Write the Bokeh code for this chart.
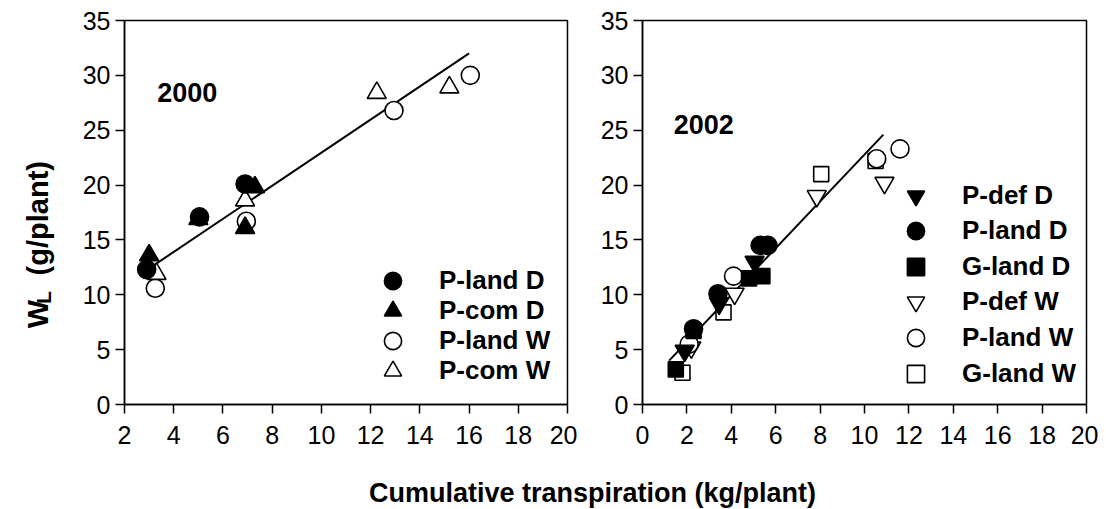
import numpy as np
from bokeh.plotting import figure
from bokeh.models import Range1d, FixedTicker, Legend, LegendItem, Label
from bokeh.layouts import row, column
from bokeh.embed import file_html
from bokeh.resources import INLINE

# ---------------- data: 2000 ----------------
pland_d_2000_x = [2.9, 5.05, 6.9]
pland_d_2000_y = [12.3, 17.1, 20.1]
pcom_d_2000_x = [3.0, 5.0, 6.9, 7.3]
pcom_d_2000_y = [13.6, 16.9, 16.1, 19.8]
pland_w_2000_x = [3.25, 6.95, 12.95, 16.05]
pland_w_2000_y = [10.6, 16.7, 26.8, 30.0]
pcom_w_2000_x = [3.3, 6.9, 12.25, 15.2]
pcom_w_2000_y = [11.9, 18.6, 28.4, 28.9]
fit_2000_x = [3.2, 16.0]
fit_2000_y = [12.7, 32.0]

# ---------------- data: 2002 ----------------
pdef_d_2002_x = [1.9, 3.45, 5.05]
pdef_d_2002_y = [4.9, 9.2, 13.0]
pland_d_2002_x = [2.3, 3.4, 5.3, 5.65]
pland_d_2002_y = [6.9, 10.1, 14.5, 14.5]
gland_d_2002_x = [1.5, 2.3, 4.8, 5.4]
gland_d_2002_y = [3.2, 6.7, 11.5, 11.7]
pdef_w_2002_x = [2.2, 4.15, 7.85, 10.9]
pdef_w_2002_y = [5.2, 10.1, 19.0, 20.2]
pland_w_2002_x = [2.1, 4.1, 10.55, 11.6]
pland_w_2002_y = [5.5, 11.7, 22.4, 23.3]
gland_w_2002_x = [1.8, 3.65, 8.05, 10.5]
gland_w_2002_y = [2.9, 8.4, 21.0, 22.2]
fit_2002_x = [1.2, 10.85]
fit_2002_y = [4.0, 24.6]

x_ticks_2000 = [2, 4, 6, 8, 10, 12, 14, 16, 18, 20]
x_ticks_2002 = [0, 2, 4, 6, 8, 10, 12, 14, 16, 18, 20]
y_ticks = [0, 5, 10, 15, 20, 25, 30, 35]

FONT = "Liberation Sans"
TICK_FS = "25px"
LEG_FS = "26px"
H = 458
FRAME_TOP = 20
FRAME_H = 384
GLYPH = 43


def make_fig(width, mbl, mbr, xr, xticks):
    p = figure(width=width, height=H, x_range=Range1d(*xr), y_range=Range1d(0, 35),
               output_backend="svg", toolbar_location=None,
               min_border_left=mbl, min_border_right=mbr, min_border_top=FRAME_TOP,
               min_border_bottom=H - FRAME_TOP - FRAME_H)
    p.xgrid.visible = False
    p.ygrid.visible = False
    p.outline_line_color = "black"
    p.outline_line_width = 1.5
    p.background_fill_color = "white"
    p.border_fill_color = "white"
    p.xaxis.ticker = FixedTicker(ticks=xticks)
    p.yaxis.ticker = FixedTicker(ticks=y_ticks)
    for ax in (p.xaxis[0], p.yaxis[0]):
        ax.axis_line_color = "black"
        ax.axis_line_width = 1.5
        ax.major_tick_line_color = "black"
        ax.major_tick_line_width = 1.5
        ax.major_tick_in = 0
        ax.major_tick_out = 9
        ax.minor_tick_line_color = None
        ax.major_label_text_font = FONT
        ax.major_label_text_font_size = TICK_FS
        ax.major_label_text_color = "black"
    p.xaxis.major_label_standoff = 12
    p.yaxis.major_label_standoff = 5
    return p


def draw(p, x, y, marker, filled, size):
    return p.scatter(x, y, marker=marker, size=size,
                     fill_color="black" if filled else "white",
                     line_color="black", line_width=1.6)


def add_legend(p, entries, first_row, step, x_loc):
    """One single-item legend per row so that rows can be closer than the glyph box."""
    for i, (label, rend) in enumerate(entries):
        centre = first_row + i * step               # pixel row centre from canvas top
        y_loc = FRAME_TOP + FRAME_H - centre - GLYPH / 2
        lg = Legend(items=[LegendItem(label=label, renderers=[rend])], location=(x_loc, y_loc))
        lg.label_text_font = FONT
        lg.label_text_font_size = LEG_FS
        lg.label_text_font_style = "bold"
        lg.label_text_color = "black"
        lg.glyph_width = GLYPH
        lg.glyph_height = GLYPH
        lg.label_height = 30
        lg.label_standoff = 25
        lg.padding = 0
        lg.margin = 0
        lg.border_line_alpha = 0
        lg.background_fill_alpha = 0
        p.add_layout(lg)


# ---------------- y-axis title panel ----------------
p0 = figure(width=60, height=H, x_range=Range1d(0, 60), y_range=Range1d(0, H),
            output_backend="svg", toolbar_location=None, x_axis_type=None, y_axis_type=None,
            min_border=0)
p0.outline_line_color = None
p0.xgrid.visible = False
p0.ygrid.visible = False
p0.add_layout(Label(x=37, y=H - 367, text="W", angle=np.pi / 2, text_font=FONT,
                    text_font_size="30px", text_font_style="bold", text_color="black",
                    text_align="left", text_baseline="alphabetic"))
p0.add_layout(Label(x=43, y=H - 338, text="L", angle=np.pi / 2, text_font=FONT,
                    text_font_size="21px", text_font_style="bold", text_color="black",
                    text_align="left", text_baseline="alphabetic"))
p0.add_layout(Label(x=37, y=H - 304, text="(g/plant)", angle=np.pi / 2, text_font=FONT,
                    text_font_size="29px", text_font_style="bold", text_color="black",
                    text_align="left", text_baseline="alphabetic"))

# ---------------- left panel ----------------
p1 = make_fig(517, 64, 10, (2, 20), x_ticks_2000)
p1.line(fit_2000_x, fit_2000_y, line_color="black", line_width=2)
r_plw = draw(p1, pland_w_2000_x, pland_w_2000_y, "circle", False, 18)
r_pcw = draw(p1, pcom_w_2000_x, pcom_w_2000_y, "triangle", False, 19)
r_pcd = draw(p1, pcom_d_2000_x, pcom_d_2000_y, "triangle", True, 19)
r_pld = draw(p1, pland_d_2000_x, pland_d_2000_y, "circle", True, 18)

add_legend(p1, [("P-land D", r_pld), ("P-com D", r_pcd),
                ("P-land W", r_plw), ("P-com W", r_pcw)],
           first_row=280, step=30.3, x_loc=247)

p1.add_layout(Label(x=3.33, y=28.4, text="2000", text_font=FONT, text_font_size="27px",
                    text_font_style="bold", text_color="black",
                    text_align="left", text_baseline="alphabetic"))

# ---------------- right panel ----------------
p2 = make_fig(521, 65, 12, (0, 20), x_ticks_2002)
p2.line(fit_2002_x, fit_2002_y, line_color="black", line_width=2)
r_gw = draw(p2, gland_w_2002_x, gland_w_2002_y, "square", False, 15)
r_pdw = draw(p2, pdef_w_2002_x, pdef_w_2002_y, "inverted_triangle", False, 19)
r_plw2 = draw(p2, pland_w_2002_x, pland_w_2002_y, "circle", False, 18)
r_gd = draw(p2, gland_d_2002_x, gland_d_2002_y, "square", True, 15)
r_pld2 = draw(p2, pland_d_2002_x, pland_d_2002_y, "circle", True, 18)
r_pdd = draw(p2, pdef_d_2002_x, pdef_d_2002_y, "inverted_triangle", True, 19)

add_legend(p2, [("P-def D", r_pdd), ("P-land D", r_pld2), ("G-land D", r_gd),
                ("P-def W", r_pdw), ("P-land W", r_plw2), ("G-land W", r_gw)],
           first_row=195, step=35.6, x_loc=252)

p2.add_layout(Label(x=1.41, y=25.5, text="2002", text_font=FONT, text_font_size="27px",
                    text_font_style="bold", text_color="black",
                    text_align="left", text_baseline="alphabetic"))

# ---------------- shared x-axis title ----------------
p3 = figure(width=1098, height=50, x_range=Range1d(0, 1098), y_range=Range1d(0, 50),
            output_backend="svg", toolbar_location=None, x_axis_type=None, y_axis_type=None,
            min_border=0)
p3.outline_line_color = None
p3.xgrid.visible = False
p3.ygrid.visible = False
p3.add_layout(Label(x=592, y=16, text="Cumulative transpiration (kg/plant)", text_font=FONT,
                    text_font_size="27px", text_font_style="bold", text_color="black",
                    text_align="center", text_baseline="middle"))

layout = column(row(p0, p1, p2), p3)
open("out.html", "w").write(file_html(layout, INLINE))
